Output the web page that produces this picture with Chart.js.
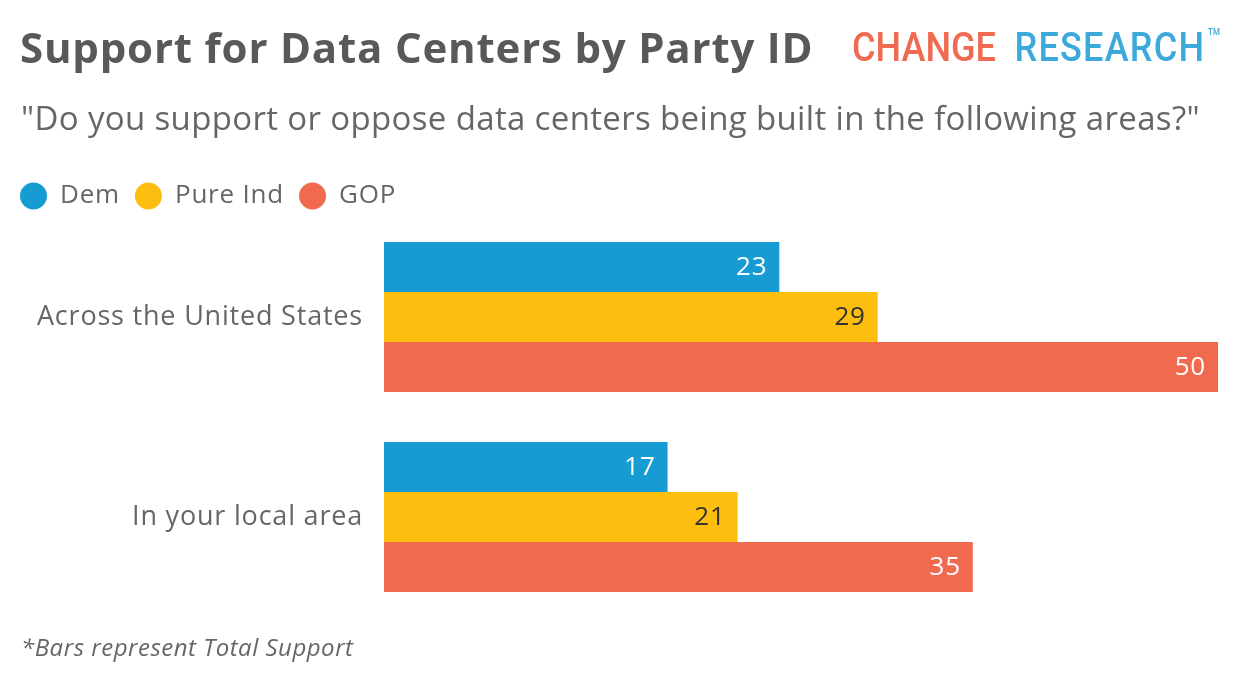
<!DOCTYPE html>
<html>
<head>
<meta charset="utf-8">
<script src="https://cdn.jsdelivr.net/npm/chart.js@4/dist/chart.umd.min.js"></script>
<style>
  body { margin: 0; background: #fff; font-family: "Open Sans", sans-serif; }
  #wrap { position: relative; width: 1240px; height: 698px; overflow: hidden; }
  #chart { position: absolute; left: 0; top: 0; }
  .title { position: absolute; left: 20px; top: 18px; line-height: 1.362; font-size: 42px; font-weight: bold; letter-spacing: 0.8px; color: #58595b; white-space: nowrap; }
  .sub { position: absolute; left: 21px; top: 96px; line-height: 1.362; font-size: 33px; letter-spacing: 0.35px; color: #666; white-space: nowrap; }
  .logo { position: absolute; left: 852px; top: 23px; font-family: Roboto, sans-serif; font-weight: 500; font-size: 41px; white-space: nowrap; transform: scaleX(0.88); transform-origin: left top; }
  .logo .c { color: #ef6a50; }
  .logo .r { color: #3ba9da; margin-left: 21px; letter-spacing: 1.4px; }
  .logo sup { font-size: 9px; color: #3ba9da; vertical-align: 26px; margin-left: 3px; }
  .note { position: absolute; left: 21px; top: 631px; line-height: 1.362; font-size: 24px; letter-spacing: 0.5px; font-style: italic; color: #666; white-space: nowrap; }
</style>
</head>
<body>
<div id="wrap">
  <canvas id="chart" width="1240" height="698"></canvas>
  <div class="title">Support for Data Centers by Party ID</div>
  <div class="logo"><span class="c">CHANGE</span><span class="r">RESEARCH</span><sup>TM</sup></div>
  <div class="sub">"Do you support or oppose data centers being built in the following areas?"</div>
  <div class="note">*Bars represent Total Support</div>
</div>
<script>
// categories and series (bar lengths, labels as printed)
var categories = ['Across the United States', 'In your local area'];
var seriesNames = ['Dem', 'Pure Ind', 'GOP'];
var demValues = [23.7, 17.0];
var indValues = [29.6, 21.2];
var gopValues = [50, 35.3];
var demLabels = [23, 17];
var indLabels = [29, 21];
var gopLabels = [50, 35];

var colors = ['#169bd3', '#fdbe10', '#f06a50'];
var labelColors = ['#ffffff', '#333333', '#ffffff'];

// draw the value text inside the end of each bar
var valueLabels = {
    id: 'valueLabels',
    afterDatasetsDraw: function (chart) {
        var ctx = chart.ctx;
        ctx.save();
        ctx.font = '26px "Open Sans", sans-serif';
        ctx.textAlign = 'right';
        ctx.textBaseline = 'middle';
        chart.data.datasets.forEach(function (ds, i) {
            var meta = chart.getDatasetMeta(i);
            meta.data.forEach(function (bar, j) {
                ctx.fillStyle = labelColors[i];
                ctx.fillText(ds.shown[j], bar.x - 12, bar.y + 1);
            });
        });
        ctx.restore();
    }
};

// legend height fixed so the plot starts where the reference does,
// and a bit of letter spacing since the original face is wider
var tweaks = {
    id: 'tweaks',
    afterInit: function (chart) {
        var fit = chart.legend.fit;
        chart.legend.fit = function () {
            fit.call(this);
            this.height = 49;
        };
    },
    beforeLayout: function (chart) { chart.ctx.letterSpacing = '0.8px'; },
    beforeDraw: function (chart) { chart.ctx.letterSpacing = '0.8px'; }
};

var ctx = document.getElementById('chart').getContext('2d');
var chart = new Chart(ctx, {
    type: 'bar',
    data: {
        labels: categories,
        datasets: [
            { label: seriesNames[0], data: demValues, shown: demLabels, backgroundColor: colors[0] },
            { label: seriesNames[1], data: indValues, shown: indLabels, backgroundColor: colors[1] },
            { label: seriesNames[2], data: gopValues, shown: gopLabels, backgroundColor: colors[2] }
        ]
    },
    options: {
        indexAxis: 'y',
        responsive: false,
        animation: false,
        layout: { padding: { top: 168, left: 5, right: 22, bottom: 81 } },
        datasets: { bar: { barPercentage: 1.0, categoryPercentage: 0.75, borderWidth: 0 } },
        scales: {
            x: { display: false, min: 0, max: 50 },
            y: {
                grid: { display: false, drawTicks: false },
                border: { display: false },
                ticks: { color: '#666', font: { size: 27, family: '"Open Sans"' }, padding: 21 },
                afterFit: function (scale) { scale.width = 379; }
            }
        },
        plugins: {
            tooltip: { enabled: false },
            legend: {
                position: 'top',
                align: 'start',
                labels: {
                    usePointStyle: true,
                    pointStyle: 'circle',
                    boxHeight: 19,
                    pointStyleWidth: 27,
                    padding: 15,
                    color: '#666',
                    font: { size: 26, family: '"Open Sans"' }
                }
            }
        }
    },
    plugins: [valueLabels, tweaks]
});
</script>
</body>
</html>
